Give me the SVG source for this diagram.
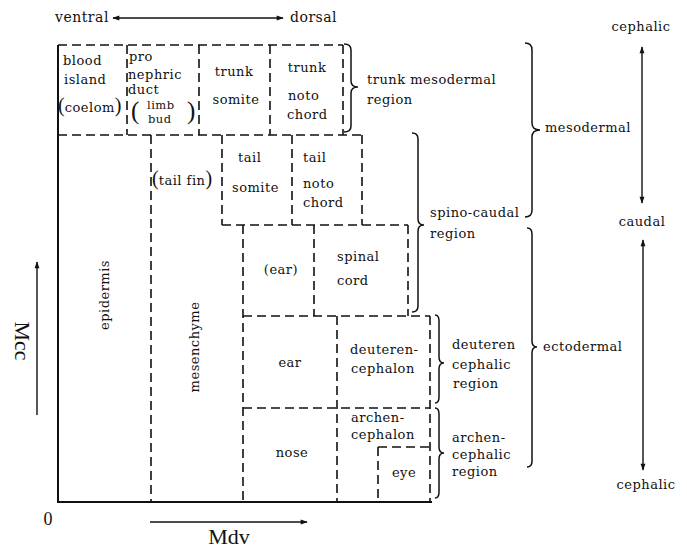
<svg xmlns="http://www.w3.org/2000/svg" width="687" height="548" viewBox="0 0 687 548">
<defs>
<marker id="ah" viewBox="0 0 10 10" refX="9" refY="5" markerWidth="9" markerHeight="7" orient="auto-start-reverse" markerUnits="userSpaceOnUse"><path d="M0,1.5 L10,5 L0,8.5 Z" fill="#111"/></marker>
<style>
.t{font-family:"DejaVu Serif","Liberation Serif",serif;font-size:13px;fill:#111;letter-spacing:0.5px}
.m{text-anchor:middle}
.p{font-family:"Liberation Serif",serif;letter-spacing:0}
.p20{font-size:20px}
.p24{font-size:25px}
.sm{font-size:11.5px}
.ax{font-family:"Liberation Serif",serif;font-size:22px;fill:#111}
.d{stroke:#111;stroke-width:1.6;stroke-dasharray:9 5;fill:none}
.s{stroke:#111;stroke-width:2;fill:none}
.b{stroke:#111;stroke-width:1.5;fill:none}
.a{stroke:#111;stroke-width:1.4;fill:none}
</style>
</defs>
<rect width="687" height="548" fill="#fff"/>

<g id="boundaries">
<path class="d" d="M58,45H343 M58,135H362 M222,225H408 M243,316H430 M243,408H430 M378,447H430"/>
<path class="d" d="M127,45V135 M199,45V135 M270,45V135 M343,45V135 M151,135V502 M222,135V225 M292,135V225 M362,135V225 M243,225V502 M314,225V316 M408,225V316 M337,316V502 M430,316V502 M378,447V502"/>
<path class="s" d="M58,45V502H432"/>
</g>

<g id="braces">
<path class="b" d="M344,44 Q351,44 351,50 L351,81 Q351,87 358,87 Q351,87 351,93 L351,126 Q351,132 344,132"/>
<path class="b" d="M525,43 Q532,43 532,50 L532,123 Q532,130 540,130 Q532,130 532,137 L532,210 Q532,217 525,217"/>
<path class="b" d="M412,133 Q418,133 418,139 L418,219 Q418,225 424,225 Q418,225 418,231 L418,306 Q418,312 412,312"/>
<path class="b" d="M527,228 Q532,228 532,234 L532,341 Q532,347 537,347 Q532,347 532,353 L532,461 Q532,467 527,467"/>
<path class="b" d="M435,315 Q439,315 439,321 L439,357 Q439,363 444,363 Q439,363 439,369 L439,397 Q439,403 435,403"/>
<path class="b" d="M435,408 Q439,408 439,414 L439,447 Q439,453 444,453 Q439,453 439,459 L439,492 Q439,498 435,498"/>
</g>

<g id="connectors">
<line class="a" x1="113" y1="18" x2="283" y2="18" marker-start="url(#ah)" marker-end="url(#ah)"/>
<line class="a" x1="642" y1="47" x2="642" y2="203" marker-start="url(#ah)" marker-end="url(#ah)"/>
<line class="a" x1="643" y1="240" x2="643" y2="470" marker-start="url(#ah)" marker-end="url(#ah)"/>
<line class="a" x1="37" y1="415" x2="37" y2="262" marker-end="url(#ah)"/>
<line class="a" x1="150" y1="522" x2="307" y2="522" marker-end="url(#ah)"/>
</g>

<g id="axis-labels">
<text class="t" x="55" y="22" style="font-size:14px">ventral</text>
<text class="t" x="290" y="22" style="font-size:14px">dorsal</text>
<text class="t m" x="641" y="31">cephalic</text>
<text class="t m" x="642" y="226">caudal</text>
<text class="t m" x="646" y="489">cephalic</text>
<text class="ax" text-anchor="middle" transform="translate(15,341) rotate(90)">Mcc</text>
<text class="ax" x="229" y="544" text-anchor="middle">Mdv</text>
<text class="ax" x="48" y="525" text-anchor="middle" style="font-size:18px">0</text>
</g>

<g id="blood-island"><text class="t" x="63" y="65">blood</text><text class="t" x="64" y="84">island</text><text class="t" x="58" y="112"><tspan class="p p20">(</tspan>coelom<tspan class="p p20">)</tspan></text></g>
<g id="pronephric-duct"><text class="t" x="129" y="61">pro</text><text class="t" x="128" y="79">nephric</text><text class="t" x="128" y="94">duct</text><text class="t p p24" x="131" y="119">(</text><text class="t sm" x="147" y="109">limb</text><text class="t sm" x="148" y="123">bud</text><text class="t p p24" x="187" y="119">)</text></g>
<g id="trunk-somite"><text class="t m" x="234" y="76">trunk</text><text class="t m" x="236" y="104">somite</text></g>
<g id="trunk-notochord"><text class="t m" x="307" y="72">trunk</text><text class="t" x="288" y="100">noto</text><text class="t" x="287" y="119">chord</text></g>
<g id="epidermis"><text class="t m" transform="translate(109,295) rotate(-90)">epidermis</text></g>
<g id="mesenchyme"><text class="t m" transform="translate(199,347) rotate(-90)">mesenchyme</text></g>
<g id="tail-fin"><text class="t" x="152" y="185"><tspan class="p p20">(</tspan>tail fin<tspan class="p p20">)</tspan></text></g>
<g id="tail-somite"><text class="t" x="238" y="162">tail</text><text class="t" x="232" y="192">somite</text></g>
<g id="tail-notochord"><text class="t" x="303" y="162">tail</text><text class="t" x="303" y="188">noto</text><text class="t" x="303" y="207">chord</text></g>
<g id="ear-tail"><text class="t m" x="281" y="274">(ear)</text></g>
<g id="spinal-cord"><text class="t" x="337" y="261">spinal</text><text class="t" x="337" y="285">cord</text></g>
<g id="ear"><text class="t m" x="290" y="367">ear</text></g>
<g id="deuterencephalon"><text class="t" x="350" y="354">deuteren-</text><text class="t" x="351" y="373">cephalon</text></g>
<g id="nose"><text class="t m" x="292" y="457">nose</text></g>
<g id="archencephalon"><text class="t" x="351" y="422">archen-</text><text class="t" x="351" y="439">cephalon</text></g>
<g id="eye"><text class="t m" x="404" y="477">eye</text></g>

<g id="region-labels">
<text class="t" x="367" y="84">trunk mesodermal</text><text class="t" x="367" y="104">region</text>
<text class="t" x="430" y="217">spino-caudal</text><text class="t" x="430" y="238">region</text>
<text class="t" x="545" y="132">mesodermal</text>
<text class="t" x="543" y="351">ectodermal</text>
<text class="t" x="452" y="349">deuteren</text><text class="t" x="452" y="369">cephalic</text><text class="t" x="453" y="388">region</text>
<text class="t" x="452" y="442">archen-</text><text class="t" x="452" y="459">cephalic</text><text class="t" x="452" y="476">region</text>
</g>
</svg>
